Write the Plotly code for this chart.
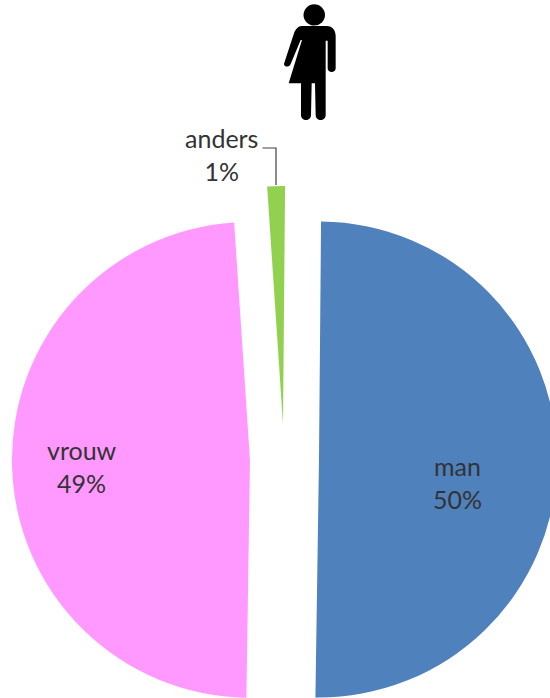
import plotly.graph_objects as go

labels = ["man", "vrouw", "anders"]
values = [50.1, 48.7, 1.2]
colors = ["#4F81BD", "#FF99FF", "#92D050"]
pulls = [0.147, 0.143, 0.147]
shown = ["50%", "49%", "1%"]
label_px = [(457, 482), (82, 466), (221, 154)]

W, H = 560, 740
CX, CY, HALF = 284, 459, 273


def px(x):
    return x / W


def py(y):
    return 1 - y / H


def pt(zx, zy):
    return f"{px(170 + zx / 3):.5f},{py(zy / 3):.5f}"


body = (
    f"M{pt(395, 78)} L{pt(470, 78)} C{pt(488, 78)} {pt(497, 92)} {pt(497, 108)} "
    f"L{pt(497, 205)} C{pt(497, 220)} {pt(473, 220)} {pt(473, 205)} "
    f"L{pt(473, 122)} L{pt(467, 122)} L{pt(467, 345)} C{pt(467, 365)} {pt(437, 365)} {pt(437, 345)} "
    f"L{pt(435, 250)} L{pt(425, 250)} L{pt(423, 345)} C{pt(423, 365)} {pt(393, 365)} {pt(393, 345)} "
    f"L{pt(393, 250)} L{pt(356, 250)} L{pt(396, 120)} L{pt(392, 120)} L{pt(362, 192)} "
    f"C{pt(356, 205)} {pt(338, 200)} {pt(343, 188)} L{pt(372, 100)} C{pt(376, 88)} {pt(385, 78)} {pt(395, 78)} Z"
)

fig = go.Figure(
    go.Pie(
        labels=labels,
        values=values,
        pull=pulls,
        sort=False,
        direction="clockwise",
        rotation=0.5,
        marker=dict(colors=colors, line=dict(width=0)),
        textinfo="none",
        hoverinfo="label+percent",
        showlegend=False,
        domain=dict(
            x=[px(CX - HALF), px(CX + HALF)],
            y=[py(CY + HALF), py(CY - HALF)],
        ),
    )
)

for name, txt, (x, y) in zip(labels, shown, label_px):
    fig.add_annotation(
        x=px(x), y=py(y), xref="paper", yref="paper",
        text=f"{name}<br>{txt}", showarrow=False, align="center",
        xanchor="center", yanchor="middle",
        font=dict(family="Lato, Carlito, sans-serif", size=25, color="#333333"),
    )

fig.add_shape(
    type="path", xref="paper", yref="paper", layer="above",
    path=f"M{px(262.5)},{py(148)} L{px(276)},{py(148)} L{px(276)},{py(185)}",
    line=dict(color="#404040", width=1.2),
)
fig.add_shape(
    type="circle", xref="paper", yref="paper",
    x0=px(303.5), x1=px(325), y0=py(4.3), y1=py(25.5),
    fillcolor="black", line=dict(width=0),
)
fig.add_shape(
    type="path", xref="paper", yref="paper", path=body,
    fillcolor="black", line=dict(width=0),
)

fig.update_layout(
    width=W, height=H, autosize=False,
    margin=dict(l=0, r=0, t=0, b=0, pad=0),
    paper_bgcolor="white",
    plot_bgcolor="white",
)

fig.write_html(
    "out.html",
    config={"displayModeBar": False},
    post_script="document.documentElement.style.overflow='hidden';document.body.style.overflow='hidden';document.body.style.margin='0';",
)
